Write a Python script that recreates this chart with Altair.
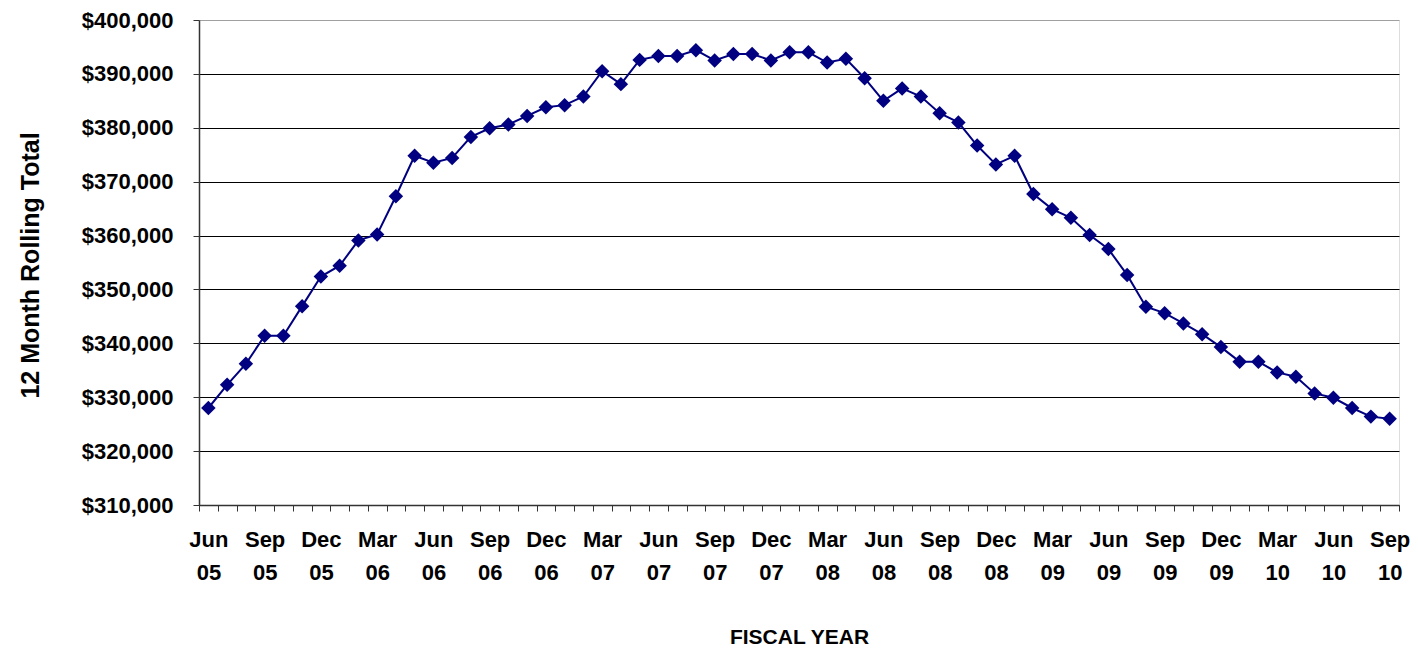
import altair as alt
import pandas as pd

months = [
    "Jun 05", "Jul 05", "Aug 05", "Sep 05", "Oct 05", "Nov 05", "Dec 05",
    "Jan 06", "Feb 06", "Mar 06", "Apr 06", "May 06", "Jun 06", "Jul 06", "Aug 06", "Sep 06", "Oct 06", "Nov 06", "Dec 06",
    "Jan 07", "Feb 07", "Mar 07", "Apr 07", "May 07", "Jun 07", "Jul 07", "Aug 07", "Sep 07", "Oct 07", "Nov 07", "Dec 07",
    "Jan 08", "Feb 08", "Mar 08", "Apr 08", "May 08", "Jun 08", "Jul 08", "Aug 08", "Sep 08", "Oct 08", "Nov 08", "Dec 08",
    "Jan 09", "Feb 09", "Mar 09", "Apr 09", "May 09", "Jun 09", "Jul 09", "Aug 09", "Sep 09", "Oct 09", "Nov 09", "Dec 09",
    "Jan 10", "Feb 10", "Mar 10", "Apr 10", "May 10", "Jun 10", "Jul 10", "Aug 10", "Sep 10",
]

values = [
    328000, 332300, 336200, 341400, 341400, 346900, 352400, 354400, 359100, 360200,
    367300, 374800, 373500, 374400, 378300, 379900, 380600, 382200, 383800, 384200,
    385800, 390500, 388100, 392600, 393300, 393300, 394400, 392500, 393700, 393700,
    392500, 394000, 394000, 392100, 392800, 389200, 385000, 387300, 385800, 382700,
    381000, 376700, 373200, 374800, 367700, 364900, 363300, 360100, 357500, 352700,
    346800, 345600, 343700, 341700, 339300, 336600, 336600, 334600, 333800, 330700,
    329900, 328000, 326400, 326000,
]

y_ticks = [310000, 320000, 330000, 340000, 350000, 360000, 370000, 380000, 390000, 400000]

df = pd.DataFrame({"month": months, "total": values})

FONT = "Liberation Sans"
NAVY = "#000080"

x_axis = alt.Axis(
    title="FISCAL YEAR",
    titleFont=FONT, titleFontSize=21, titleFontWeight="bold", titleColor="black",
    titleX=600, titleY=138, titleBaseline="alphabetic", titleAlign="center",
    labelFont=FONT, labelFontSize=22, labelFontWeight="bold", labelColor="black",
    labelExpr="indexof(['Jun','Sep','Dec','Mar'], slice(datum.label, 0, 3)) >= 0 ? split(datum.label, ' ') : ''",
    labelLineHeight=33, labelPadding=18, labelOverlap=False, labelAngle=0,
    tickBand="extent", tickSize=6, tickColor="#333333", tickWidth=1,
    domainColor="#333333", domainWidth=1.5, grid=False,
)

y_axis = alt.Axis(
    title="12 Month Rolling Total",
    titleFont=FONT, titleFontSize=25, titleFontWeight="bold", titleColor="black",
    titleX=-161, titleY=245, titleAngle=-90, titleBaseline="alphabetic", titleAlign="center",
    values=y_ticks, format="$,.0f",
    labelFont=FONT, labelFontSize=22, labelFontWeight="bold", labelColor="black",
    labelPadding=20, tickSize=6, tickColor="#333333", tickWidth=1,
    domainColor="#333333", domainWidth=1.5,
    grid=True,
    gridColor={"condition": {"test": "datum.value >= 400000", "value": "#a0a0a0"}, "value": "#000000"},
    gridWidth=1,
)

chart = (
    alt.Chart(df)
    .mark_line(
        color=NAVY,
        strokeWidth=2,
        point=alt.OverlayMarkDef(shape="diamond", size=210, filled=True, color=NAVY, opacity=1),
    )
    .encode(
        x=alt.X("month:O", sort=months, axis=x_axis,
                scale=alt.Scale(type="band", paddingInner=0, paddingOuter=0)),
        y=alt.Y("total:Q", axis=y_axis,
                scale=alt.Scale(domain=[310000, 400000], zero=False, nice=False)),
    )
    .properties(
        width=1200,
        height=485,
        autosize=alt.AutoSizeParams(type="none"),
        padding={"left": 191, "top": 12, "right": 11, "bottom": 146},
    )
    .configure_view(stroke="#a0a0a0", strokeWidth=1.5)
    .configure(background="white")
)

chart.save("out.html", embed_options={"renderer": "svg", "actions": False})
